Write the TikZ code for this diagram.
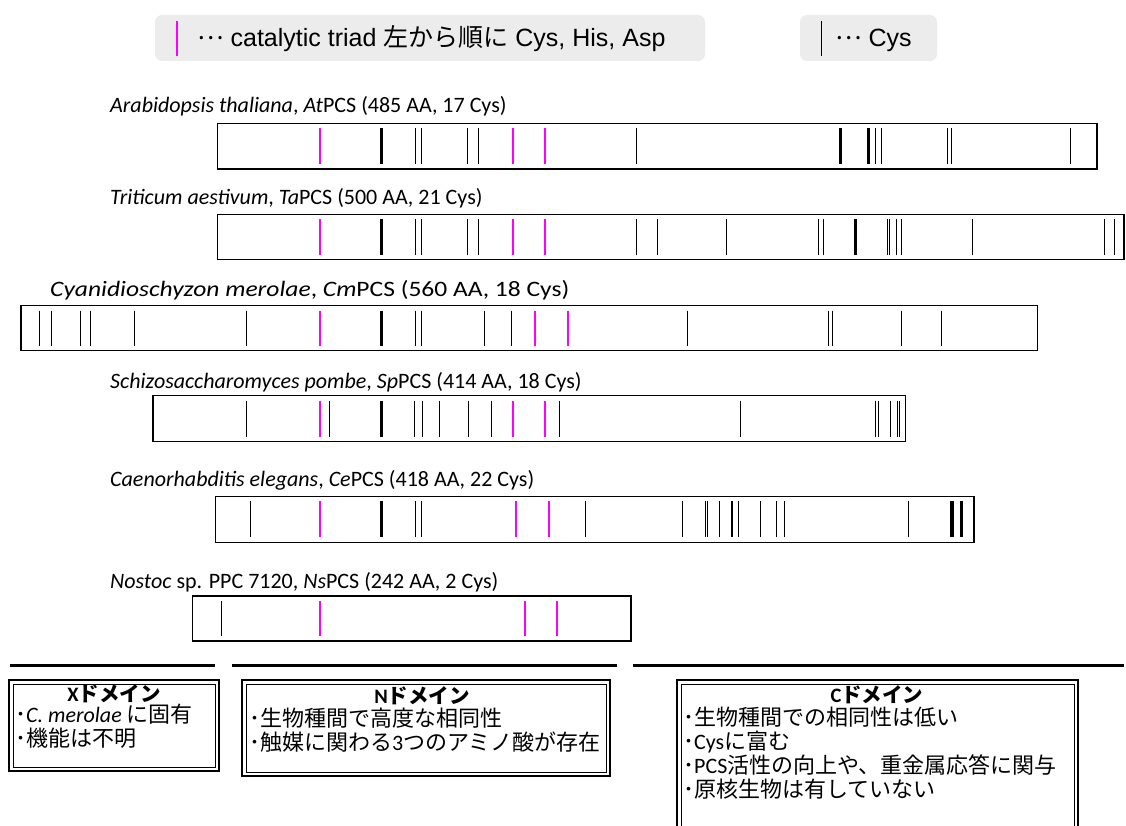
\documentclass[tikz,border=0pt]{standalone}
\usepackage{fontspec}
\setmainfont{Carlito}
\newfontfamily\jpf{Noto Sans CJK JP}
\newfontfamily\arialf{Liberation Sans}
\definecolor{triadmag}{RGB}{255,0,255}
\definecolor{legendbg}{RGB}{236,236,236}
\tikzset{
  barframe/.style={draw=black, line width=1.4pt},
  cysline/.style={draw=black, line width=1.5pt},
  cysthick/.style={draw=black, line width=2.3pt},
  triadline/.style={draw=triadmag, line width=2pt},
  speclabel/.style={anchor=base west, inner sep=0pt, font=\fontsize{22}{22}\selectfont},
  legendbox/.style={fill=legendbg, rounded corners=7pt},
  legendtext/.style={anchor=base west, inner sep=0pt, font=\arialf\fontsize{25}{25}\selectfont},
  sepline/.style={line width=3pt},
  boxouter/.style={draw, line width=1.5pt},
  boxinner/.style={draw, line width=0.9pt},
  boxtitle/.style={anchor=base, inner sep=0pt, font=\fontsize{20.5}{20.5}\selectfont\bfseries},
  boxitem/.style={anchor=base west, inner sep=0pt, font=\jpf\fontsize{22}{22}\selectfont},
}
\newcommand{\pcsbar}[7]{%
  \draw[barframe] (#1,#3) rectangle (#2,#4);
  \foreach \xx in {#5} {\pgfmathsetmacro\xp{floor(\xx)+0.5}\draw[cysline] (\xp,#3+5) -- (\xp,#4-5);}
  \foreach \xx in {#7} {\pgfmathsetmacro\xp{floor(\xx)+0.5}\draw[cysthick] (\xp,#3+5) -- (\xp,#4-5);}
  \foreach \xx in {#6} {\pgfmathsetmacro\xp{floor(\xx)+0.5}\draw[triadline] (\xp,#3+5) -- (\xp,#4-5);}
}
\newcommand{\jp}[1]{{\jpf #1}}
\newcommand{\midell}{\raisebox{0.3em}{\jpf …}}
\begin{document}
\begin{tikzpicture}[x=1pt,y=-1pt]
\useasboundingbox (0,0) rectangle (1126,826);
\clip (0,0) rectangle (1126,826);

% legend
\fill[legendbox] (155,15) rectangle (705,61);
\fill[legendbox] (800,15) rectangle (937,61);
\draw[triadline] (176.5,21) -- (176.5,56);
\draw[cysline] (821.5,21) -- (821.5,56);
\node[legendtext] (leg1) at (197,47) {\midell{} catalytic triad \jp{左から順に} Cys, His, Asp};
\node[legendtext] (leg2) at (835,47) {\midell{} Cys};

% species labels
\node[speclabel] (lAt) at (110,113) {\textit{Arabidopsis thaliana}, \textit{At}PCS (485 AA, 17 Cys)};
\node[speclabel] (lTa) at (110,205) {\textit{Triticum aestivum}, \textit{Ta}PCS (500 AA, 21 Cys)};
\node[speclabel, xscale=1.16, transform shape] (lCm) at (50,296) {\textit{Cyanidioschyzon merolae}, \textit{Cm}PCS (560 AA, 18 Cys)};
\node[speclabel] (lSp) at (110,388) {\textit{Schizosaccharomyces pombe}, \textit{Sp}PCS (414 AA, 18 Cys)};
\node[speclabel] (lCe) at (110,486) {\textit{Caenorhabditis elegans}, \textit{Ce}PCS (418 AA, 22 Cys)};
\node[speclabel] (lNs) at (110,588) {\textit{Nostoc} sp. PPC 7120, \textit{Ns}PCS (242 AA, 2 Cys)};

% bars
\pcsbar{217.5}{1097}{123.5}{169}{415,421.7,467.7,478.7,636.7,875,881,947.7,951,1070.7}{319.3,512,544.3}{381.7,840,868.3}
\pcsbar{217.5}{1124}{214.5}{259.5}{415,421.7,467.7,478.7,636.7,657.5,726,818.3,823.3,887.3,889.5,896.7,901.3,972.7,1104,1114.3}{319.3,512,544.3}{381.7,855}
\pcsbar{21}{1037.7}{305.5}{350.7}{39.3,51.7,80.7,90.7,134,246.7,415,421.7,484.3,511.7,687.3,828.3,832.3,901.7,941.7}{319,534.3,567.3}{381.7}
\pcsbar{153}{905.5}{395.7}{441.7}{246.3,329.7,414.7,422,439,468,491.3,559,740.7,875.7,878.3,890,897.7,899.3}{319,512,544.3}{381.3}
\pcsbar{215.7}{974}{496.3}{542.3}{250,415,421.7,585.7,682.3,705.7,707.3,719,731,732.7,738.3,760,776.7,784,908.3,953.5}{319,515.7,548.3}{381.7,951.7,961}
\draw[barframe] (192.3,596) rectangle (631,641);
\draw[cysline] (221.5,601) -- (221.5,636);
\foreach \xx in {319.5,524.5,556.5} \draw[triadline] (\xx,601) -- (\xx,636);

% domain separators
\draw[sepline] (10,665) -- (215,665);
\draw[sepline] (232,665) -- (617,665);
\draw[sepline] (633,665) -- (1124,665);

% X domain box
\draw[boxouter] (9,680) rectangle (219,771);
\draw[boxinner] (13,684) rectangle (215,767);
\node[boxtitle] (tX) at (114,701) {X\jp{ドメイン}};
\node[boxitem] (x1) at (15,722) {･{\fontspec{Carlito}\itshape C. merolae} に固有};
\node[boxitem] (x2) at (15,746) {･機能は不明};

% N domain box
\draw[boxouter] (242,680) rectangle (610,776);
\draw[boxinner] (246,684) rectangle (606,772);
\node[boxtitle] (tN) at (422,703) {N\jp{ドメイン}};
\node[boxitem] (n1) at (249,726) {･生物種間で高度な相同性};
\node[boxitem] (n2) at (249,750) {･触媒に関わる{\fontspec{Carlito}3}つのアミノ酸が存在};

% C domain box
\draw[boxouter] (677,680) rectangle (1078,840);
\draw[boxinner] (681,684) rectangle (1074,840);
\node[boxtitle] (tC) at (877,702) {C\jp{ドメイン}};
\node[boxitem] (c1) at (683,725) {･生物種間での相同性は低い};
\node[boxitem] (c2) at (683,749) {･{\fontspec{Carlito}Cys}に富む};
\node[boxitem] (c3) at (683,773) {･{\fontspec{Carlito}PCS}活性の向上や、重金属応答に関与};
\node[boxitem] (c4) at (683,797) {･原核生物は有していない};
\end{tikzpicture}
\end{document}
